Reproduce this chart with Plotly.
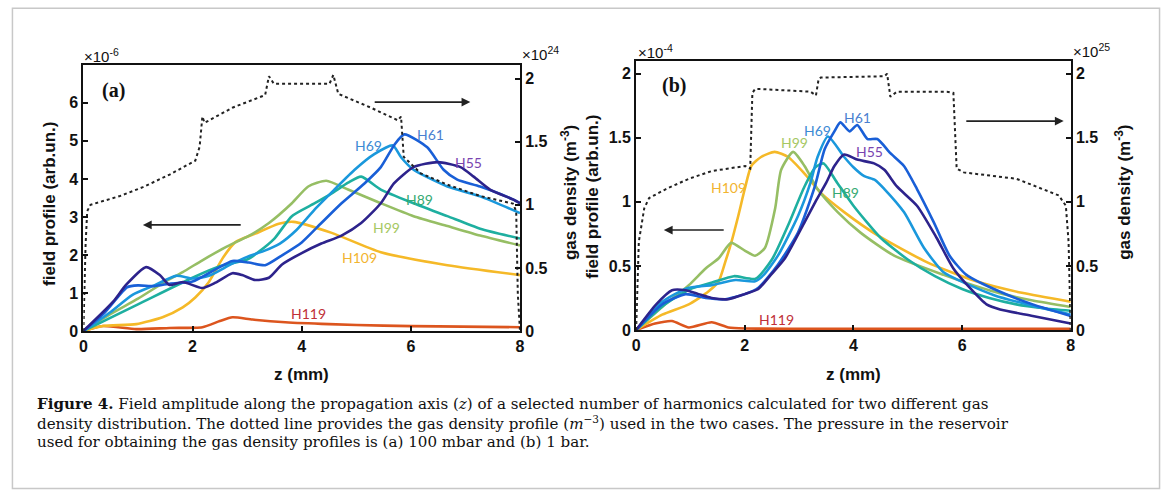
import plotly.graph_objects as go

W, H = 1171, 504

# ---------------- Panel (a): 100 mbar ----------------
gas_a_z = [0, 0.04, 0.07, 0.13, 0.36, 0.67, 1.09, 1.58, 2.05, 2.13, 2.18, 2.22, 2.73, 3.33, 3.40, 3.49,
           4.51, 4.58, 4.67, 5.27, 5.76, 5.82, 5.87, 6.18, 6.67, 7.27, 7.87, 7.93, 7.96, 8]
gas_a_d = [0, 0.68, 0.95, 1.0, 1.03, 1.07, 1.14, 1.24, 1.35, 1.46, 1.70, 1.65, 1.77, 1.87, 2.02, 1.96,
           1.96, 2.03, 1.88, 1.77, 1.67, 1.70, 1.38, 1.25, 1.16, 1.07, 1.01, 0.95, 0.29, 0]

a_H55_z = [0, 0.55, 0.78, 1.15, 1.40, 1.58, 1.82, 2.18, 2.42, 2.73, 2.91, 3.15, 3.40, 3.64, 4.0, 4.36,
           4.73, 5.09, 5.45, 5.69, 6.05, 6.49, 6.91, 7.15, 7.45, 7.87, 8]
a_H55_v = [0, 0.78, 1.21, 1.68, 1.47, 1.21, 1.29, 1.13, 1.27, 1.52, 1.47, 1.34, 1.40, 1.75, 2.05, 2.30,
           2.51, 2.84, 3.36, 3.88, 4.31, 4.44, 4.31, 4.06, 3.72, 3.46, 3.36]

a_H61_z = [0, 0.4, 0.8, 1.0, 1.3, 1.6, 2.0, 2.42, 2.73, 3.03, 3.33, 3.64, 4.0, 4.36, 4.73, 5.15, 5.45,
           5.7, 5.88, 6.3, 6.6, 6.85, 7.27, 7.87, 8]
a_H61_v = [0, 0.5, 1.15, 1.2, 1.18, 1.25, 1.3, 1.62, 1.84, 1.8, 1.73, 1.99, 2.33, 2.84, 3.36, 3.88, 4.31,
           4.9, 5.17, 4.83, 4.24, 3.98, 3.8, 3.46, 3.36]

a_H69_z = [0, 0.5, 0.9, 1.3, 1.7, 2.0, 2.3, 2.7, 3.0, 3.3, 3.6, 3.9, 4.24, 4.6, 4.97, 5.33, 5.67, 5.82,
           6.05, 6.67, 7.27, 8]
a_H69_v = [0, 0.5, 0.95, 1.2, 1.45, 1.38, 1.45, 1.75, 1.95, 2.1, 2.3, 2.65, 3.2, 3.72, 4.24, 4.65, 4.88,
           4.57, 4.24, 3.8, 3.54, 3.1]

a_H89_z = [0, 1.0, 2.0, 2.5, 3.0, 3.2, 3.5, 3.82, 4.24, 4.55, 4.85, 5.09, 5.45, 6.05, 6.67, 7.27, 8]
a_H89_v = [0, 0.7, 1.4, 1.7, 1.88, 2.07, 2.43, 3.02, 3.36, 3.62, 3.9, 4.06, 3.72, 3.36, 3.02, 2.69, 2.43]

a_H99_z = [0, 0.5, 1.0, 1.5, 1.82, 2.18, 2.6, 3.03, 3.4, 3.82, 4.12, 4.45, 4.85, 5.45, 6.05, 6.67,
           7.27, 8]
a_H99_v = [0, 0.45, 0.85, 1.3, 1.55, 1.86, 2.2, 2.5, 2.84, 3.36, 3.8, 3.95, 3.72, 3.36, 3.02, 2.76,
           2.51, 2.25]

a_H109_z = [0, 0.36, 0.97, 1.45, 1.82, 2.05, 2.3, 2.55, 2.78, 3.15, 3.58, 3.85, 4.55, 5.45, 6.67, 8]
a_H109_v = [0, 0.13, 0.18, 0.36, 0.62, 0.88, 1.29, 1.91, 2.33, 2.56, 2.82, 2.87, 2.58, 2.07, 1.73, 1.47]

a_H119_z = [0, 0.36, 0.97, 1.58, 2.18, 2.5, 2.73, 3.1, 3.7, 4.5, 5.5, 6.5, 8]
a_H119_v = [0, 0.13, 0.05, 0.08, 0.1, 0.26, 0.36, 0.3, 0.23, 0.18, 0.14, 0.12, 0.1]

# ---------------- Panel (b): 1 bar ----------------
gas_b_z = [0, 0.02, 0.05, 0.15, 0.24, 0.55, 0.97, 1.39, 2.01, 2.10, 2.14, 2.19, 2.30, 3.21, 3.31, 3.36,
           3.40, 4.57, 4.62, 4.68, 4.80, 5.72, 5.84, 5.90, 6.03, 7.0, 7.78, 7.91, 7.96, 8]
gas_b_d = [0, 0.38, 0.69, 0.95, 1.03, 1.10, 1.18, 1.24, 1.28, 1.26, 1.85, 1.88, 1.88, 1.86, 1.83, 1.96,
           1.97, 1.98, 2.0, 1.82, 1.86, 1.86, 1.85, 1.26, 1.23, 1.18, 1.05, 0.97, 0.69, 0]

b_H55_z = [0, 0.37, 0.66, 0.91, 1.15, 1.39, 1.7, 2.0, 2.25, 2.48, 2.74, 3.1, 3.3, 3.5, 3.65, 3.83, 4.07,
           4.38, 4.57, 4.8, 5.17, 5.53, 5.84, 6.14, 6.45, 6.7, 7.3, 8]
b_H55_v = [0, 0.2, 0.31, 0.31, 0.28, 0.25, 0.24, 0.28, 0.32, 0.43, 0.56, 0.84, 1.0, 1.15, 1.28, 1.37,
           1.33, 1.30, 1.25, 1.12, 0.97, 0.72, 0.48, 0.33, 0.2, 0.16, 0.11, 0.05]

b_H61_z = [0, 0.48, 0.91, 1.28, 1.64, 2.0, 2.25, 2.61, 2.98, 3.29, 3.47, 3.65, 3.76, 3.93, 4.07, 4.26,
           4.44, 4.68, 4.93, 5.17, 5.48, 5.77, 6.08, 6.69, 7.3, 8]
b_H61_v = [0, 0.2, 0.28, 0.25, 0.24, 0.28, 0.33, 0.51, 0.76, 1.12, 1.41, 1.55, 1.62, 1.55, 1.6, 1.49,
           1.49, 1.38, 1.28, 1.1, 0.84, 0.58, 0.43, 0.3, 0.2, 0.11]

b_H69_z = [0, 0.48, 0.97, 1.39, 1.83, 2.19, 2.35, 2.61, 2.98, 3.21, 3.34, 3.53, 3.83, 4.0, 4.2, 4.4,
           4.57, 4.93, 5.3, 5.66, 6.14, 6.6, 7.2, 8]
b_H69_v = [0, 0.22, 0.33, 0.35, 0.39, 0.38, 0.43, 0.58, 0.89, 1.15, 1.35, 1.51, 1.35, 1.27, 1.2, 1.17,
           1.1, 0.92, 0.64, 0.45, 0.35, 0.27, 0.2, 0.12]

b_H89_z = [0, 0.5, 1.0, 1.4, 1.8, 2.2, 2.5, 2.8, 3.1, 3.3, 3.45, 3.7, 4.0, 4.5, 5.0, 5.5, 6.0, 6.5, 7.0,
           7.5, 8]
b_H89_v = [0, 0.19, 0.32, 0.37, 0.42, 0.40, 0.55, 0.82, 1.12, 1.27, 1.3, 1.15, 0.97, 0.72, 0.55, 0.42,
           0.32, 0.25, 0.2, 0.17, 0.15]

b_H99_z = [0, 0.48, 0.97, 1.28, 1.52, 1.75, 2.0, 2.19, 2.37, 2.56, 2.67, 2.89, 3.1, 3.34, 3.71, 4.13,
           4.75, 5.66, 6.58, 7.3, 8]
b_H99_v = [0, 0.18, 0.35, 0.48, 0.56, 0.68, 0.62, 0.58, 0.64, 0.95, 1.25, 1.39, 1.28, 1.1, 0.92, 0.76,
           0.58, 0.43, 0.3, 0.23, 0.18]

b_H109_z = [0, 0.48, 0.97, 1.33, 1.52, 1.64, 1.75, 1.88, 2.0, 2.12, 2.3, 2.55, 2.8, 3.1, 3.4, 3.83, 4.44,
            5.35, 6.26, 7.1, 8]
b_H109_v = [0, 0.12, 0.2, 0.3, 0.38, 0.53, 0.68, 0.89, 1.1, 1.28, 1.35, 1.39, 1.35, 1.22, 1.07, 0.92,
            0.74, 0.53, 0.38, 0.29, 0.22]

b_H119_z = [0, 0.35, 0.66, 0.97, 1.39, 1.7, 2.0, 3, 4, 5, 6, 7, 8]
b_H119_v = [0, 0.05, 0.07, 0.02, 0.06, 0.02, 0.012, 0.01, 0.01, 0.01, 0.01, 0.01, 0.01]

harmonics = ["H55", "H61", "H69", "H89", "H99", "H109", "H119"]
line_colors = ["#2d238c", "#195fd7", "#1a98dc", "#1eafa0", "#96be64", "#f5b928", "#dc551e"]
label_colors = ["#7a44b0", "#4a7fd0", "#3c8ad4", "#36aa72", "#a6c862", "#f2b430", "#c03038"]

# label positions (data coords)
a_label_z = [7.05, 6.36, 5.22, 6.15, 5.55, 5.05, 4.13]
a_label_v = [4.44, 5.17, 4.88, 3.46, 2.71, 1.94, 0.47]
b_label_z = [4.29, 4.07, 3.34, 3.85, 2.92, 1.70, 2.58]
b_label_v = [1.39, 1.66, 1.56, 1.07, 1.46, 1.11, 0.085]

x_ticks = [0, 2, 4, 6, 8]
a_left_ticks = [0, 1, 2, 3, 4, 5, 6]
dens_ticks = [0, 0.5, 1, 1.5, 2]
dens_tick_text = ["0", "0.5", "1", "1.5", "2"]

a_series = [(a_H55_z, a_H55_v), (a_H61_z, a_H61_v), (a_H69_z, a_H69_v), (a_H89_z, a_H89_v),
            (a_H99_z, a_H99_v), (a_H109_z, a_H109_v), (a_H119_z, a_H119_v)]
b_series = [(b_H55_z, b_H55_v), (b_H61_z, b_H61_v), (b_H69_z, b_H69_v), (b_H89_z, b_H89_v),
            (b_H99_z, b_H99_v), (b_H109_z, b_H109_v), (b_H119_z, b_H119_v)]


def px(x):
    return x / W


def py(y):
    return 1 - y / H


fig = go.Figure()

# gas density dotted lines
fig.add_trace(go.Scatter(x=gas_a_z, y=gas_a_d, xaxis="x", yaxis="y2", mode="lines",
                         line=dict(color="#222222", dash="dot", width=2), showlegend=False))
fig.add_trace(go.Scatter(x=gas_b_z, y=gas_b_d, xaxis="x2", yaxis="y4", mode="lines",
                         line=dict(color="#222222", dash="dot", width=2), showlegend=False))

for order in [6, 5, 4, 3, 2, 1, 0]:
    za, va = a_series[order]
    fig.add_trace(go.Scatter(x=za, y=va, xaxis="x", yaxis="y", mode="lines", name=harmonics[order],
                             line=dict(color=line_colors[order], width=2.6, shape="spline", smoothing=0.6),
                             showlegend=False))
    zb, vb = b_series[order]
    fig.add_trace(go.Scatter(x=zb, y=vb, xaxis="x2", yaxis="y3", mode="lines", name=harmonics[order],
                             line=dict(color=line_colors[order], width=2.6, shape="spline", smoothing=0.6),
                             showlegend=False))

tickfont = dict(family="Arial, Liberation Sans, sans-serif", size=16, color="#111111", weight="bold")
common = dict(showgrid=False, zeroline=False, showline=True, linecolor="#111111", linewidth=2,
              ticks="inside", ticklen=5, tickwidth=1.5, tickcolor="#111111", tickfont=tickfont)

xa_dom = [px(80), px(520)]
ya_dom = [py(337), py(66)]
xb_dom = [px(637), px(1075)]
yb_dom = [py(336), py(62)]

fig.update_layout(
    width=W, height=H, margin=dict(l=0, r=0, t=0, b=0),
    paper_bgcolor="white", plot_bgcolor="white", showlegend=False,
    xaxis=dict(domain=xa_dom, range=[0, 8], anchor="y", tickvals=x_ticks, mirror=True, **common),
    yaxis=dict(domain=ya_dom, range=[0, 7], anchor="x", tickvals=a_left_ticks, **common),
    yaxis2=dict(range=[0, 2.11], anchor="x", overlaying="y", side="right", tickvals=dens_ticks,
                ticktext=dens_tick_text, **common),
    xaxis2=dict(domain=xb_dom, range=[0, 8], anchor="y3", tickvals=x_ticks, mirror=True, **common),
    yaxis3=dict(domain=yb_dom, range=[0, 2.1], anchor="x2", tickvals=dens_ticks,
                ticktext=dens_tick_text, **common),
    yaxis4=dict(range=[0, 2.1], anchor="x2", overlaying="y3", side="right", tickvals=dens_ticks,
                ticktext=dens_tick_text, **common),
)

ann = []
lblfont = dict(family="Lato, Open Sans, sans-serif", size=14)
for i in range(7):
    ann.append(dict(x=a_label_z[i], y=a_label_v[i], xref="x", yref="y", text=harmonics[i],
                    showarrow=False, font=dict(color=label_colors[i], **lblfont)))
    ann.append(dict(x=b_label_z[i], y=b_label_v[i], xref="x2", yref="y3", text=harmonics[i],
                    showarrow=False, font=dict(color=label_colors[i], **lblfont)))

# arrows
arrow = dict(showarrow=True, arrowhead=2, arrowsize=1.1, arrowwidth=1.6, arrowcolor="#222222", text="")
ann.append(dict(x=1.09, y=2.79, ax=2.91, ay=2.79, xref="x", yref="y", axref="x", ayref="y", **arrow))
ann.append(dict(x=7.09, y=6.02, ax=5.31, ay=6.02, xref="x", yref="y", axref="x", ayref="y", **arrow))
ann.append(dict(x=0.51, y=0.78, ax=1.64, ay=0.78, xref="x2", yref="y3", axref="x2", ayref="y3", **arrow))
ann.append(dict(x=7.87, y=1.63, ax=6.05, ay=1.63, xref="x2", yref="y3", axref="x2", ayref="y3", **arrow))

titlefont = dict(family="Arial, Liberation Sans, sans-serif", size=17, color="#111111", weight="bold")
expfont = dict(family="Arial, Liberation Sans, sans-serif", size=15, color="#111111")


def paper_text(x, y, text, font, angle=0, xanchor="center", yanchor="middle"):
    return dict(x=px(x), y=py(y), xref="paper", yref="paper", text=text, showarrow=False,
                font=font, textangle=angle, xanchor=xanchor, yanchor=yanchor)


ann += [
    paper_text(46, 208, "field profile (arb.un.)", titlefont, -90),
    paper_text(570, 196, "gas density (m<sup>-3</sup>)", titlefont, -90),
    paper_text(300, 381, "z (mm)", titlefont),
    paper_text(593, 200, "field profile (arb.un.)", titlefont, -90),
    paper_text(1128, 196, "gas density (m<sup>-3</sup>)", titlefont, -90),
    paper_text(856, 381, "z (mm)", titlefont),
    paper_text(79, 56, "×10<sup>-6</sup>", expfont, xanchor="left"),
    paper_text(520, 54, "×10<sup>24</sup>", expfont, xanchor="left"),
    paper_text(637, 52, "×10<sup>-4</sup>", expfont, xanchor="left"),
    paper_text(1075, 51, "×10<sup>25</sup>", expfont, xanchor="left"),
    paper_text(110, 92, "(a)", dict(family="Liberation Serif, Times New Roman, serif", size=20,
                                    color="#111111", weight="bold")),
    paper_text(675, 87, "(b)", dict(family="Liberation Serif, Times New Roman, serif", size=20,
                                    color="#111111", weight="bold")),
]

capfont = dict(family="DejaVu Serif, Liberation Serif, serif", size=15.1, color="#111111")
cap_lines = [
    "<b>Figure 4.</b> Field amplitude along the propagation axis (<i>z</i>) of a selected number of "
    "harmonics calculated for two different gas",
    "density distribution. The dotted line provides the gas density profile (<i>m</i><sup>−3</sup>) "
    "used in the two cases. The pressure in the reservoir",
    "used for obtaining the gas density profiles is (a) 100 mbar and (b) 1 bar.",
]
for i, line in enumerate(cap_lines):
    ann.append(paper_text(31, 411 + 19.5 * i, line, capfont, xanchor="left"))

fig.update_layout(annotations=ann)

fig.add_shape(type="rect", xref="paper", yref="paper", x0=px(8.5), x1=px(1164.5), y0=py(497.5),
              y1=py(8.5), line=dict(color="#c8c8c8", width=1.5), fillcolor="rgba(0,0,0,0)", layer="below")

# place the figure at the page origin so figure pixels equal window pixels
fig.write_html("out.html", config={"displayModeBar": False},
               post_script="document.body.style.margin='0';document.body.style.overflow='hidden';")
